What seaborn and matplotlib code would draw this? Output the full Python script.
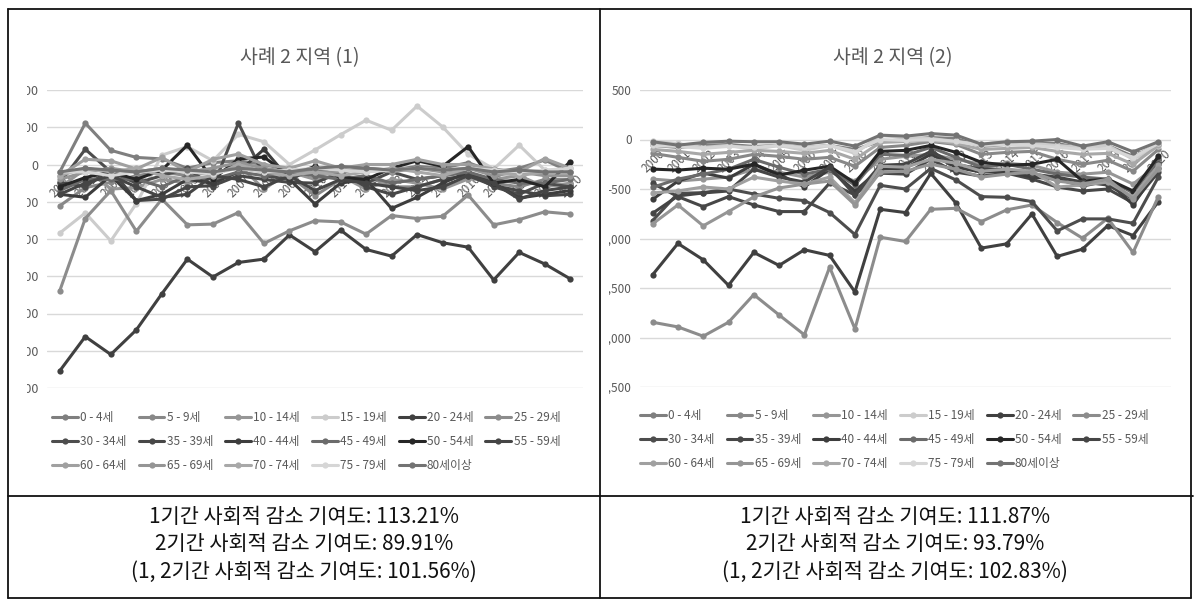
import numpy as np
import pandas as pd
import seaborn as sns
import matplotlib
matplotlib.use("Agg")
import matplotlib.pyplot as plt
from matplotlib.lines import Line2D
from matplotlib.transforms import Bbox, TransformedBbox, ScaledTranslation

years = [str(y) for y in range(2000, 2021)]
ages = ['0 - 4세', '5 - 9세', '10 - 14세', '15 - 19세', '20 - 24세', '25 - 29세',
        '30 - 34세', '35 - 39세', '40 - 44세', '45 - 49세', '50 - 54세', '55 - 59세',
        '60 - 64세', '65 - 69세', '70 - 74세', '75 - 79세', '80세이상']
colors = ['#7f7f7f', '#888888', '#969696', '#cccccc', '#404040', '#8c8c8c',
          '#4d4d4d', '#474747', '#3d3d3d', '#6b6b6b', '#262626', '#454545',
          '#a0a0a0', '#959595', '#a8a8a8', '#d6d6d6', '#737373']

# 사례 2 지역 (1)
r1_00_04 = [-20, 111, 38, 19, 15, -10, 5, 10, 0, -15, -30, -20, -10, -15, -5, -10, 5, -20, -10, 12, -20]
r1_05_09 = [-111, -62, -48, -30, -20, -30, -20, -10, -20, -30, -84, -40, -30, -60, -60, -40, -30, -50, -60, -40, -40]
r1_10_14 = [-62, -12, -66, -62, -40, -50, -30, 0, -66, -20, -40, -30, -66, -40, -50, -66, -39, -40, -30, -60, -50]
r1_15_19 = [-184, -130, -205, -105, 25, 48, 10, 81, 61, 0, 39, 80, 119, 92, 157, 101, 28, -12, 52, -15, -20]
r1_20_24 = [-554, -462, -510, -444, -347, -254, -302, -263, -254, -189, -234, -176, -228, -246, -188, -210, -222, -310, -236, -267, -307]
r1_25_29 = [-339, -145, -70, -179, -93, -162, -160, -129, -212, -178, -151, -154, -187, -137, -145, -139, -82, -162, -148, -127, -133]
r1_30_34 = [-50, 41, -20, -50, -30, -10, -60, 111, -30, -40, -10, -30, -50, -20, -40, -30, -20, -60, -80, -50, -60]
r1_35_39 = [-48, -60, -12, -97, -93, -60, -57, -30, -40, -48, -50, -20, -60, -80, -60, -40, -30, -57, -70, -84, -80]
r1_40_44 = [-80, -88, -30, -97, -80, -40, -50, -20, 41, -40, -106, -50, -40, -118, -88, -50, -20, -50, -90, -80, -70]
r1_45_49 = [-70, -40, -40, -39, -60, -30, -40, -20, -30, -20, -30, -40, -30, -50, -40, -30, -20, -40, -50, -50, -40]
r1_50_54 = [-60, -35, -20, -40, -15, 52, -40, 15, 20, -30, -5, -35, -40, -10, 10, -5, 48, -50, -40, -60, 8]
r1_55_59 = [-80, -50, -30, -60, -88, -80, -30, -40, -60, -30, -70, -40, -50, -60, -70, -60, -30, -50, -93, -70, -60]
r1_60_64 = [-30, 14, 10, -12, 19, -20, 14, 28, 0, -10, 10, -10, 0, 0, 14, 0, 0, -12, -20, 16, -10]
r1_65_69 = [-40, -20, -10, -20, -10, -20, -10, 5, -10, -20, -20, -20, -10, -20, -10, -20, -10, -30, -20, -30, -30]
r1_70_74 = [-30, -10, -20, -10, -30, -40, -30, 0, -20, -30, -20, -30, -20, -10, -20, -30, -10, -20, -30, -20, -20]
r1_75_79 = [-20, -20, -30, -20, -15, -20, -25, -10, -20, -15, -10, -15, -20, -15, -10, -15, -10, -15, -20, -15, -10]
r1_80 = [-20, -10, -15, -20, -10, -15, -20, -10, -15, -20, -10, -5, -10, -15, -10, -15, -10, -20, -15, -20, -20]

# 사례 2 지역 (2)
r2_00_04 = [-60, -80, -60, -50, -70, -60, -80, -60, -100, -20, 0, 20, 10, -70, -50, -40, -40, -90, -60, -170, -50]
r2_05_09 = [-140, -180, -220, -200, -150, -170, -200, -180, -270, -80, -60, -20, -50, -150, -130, -120, -200, -250, -210, -320, -100]
r2_10_14 = [-400, -420, -400, -380, -300, -330, -380, -330, -420, -200, -170, -150, -200, -250, -240, -260, -330, -350, -330, -450, -250]
r2_15_19 = [-20, -40, -80, -60, -100, -60, -110, -60, -140, 40, 20, 10, -20, -50, -20, -40, -60, -80, -60, -200, -70]
r2_20_24 = [-1366, -1050, -1215, -1473, -1141, -1272, -1114, -1171, -1540, -705, -738, -342, -644, -1097, -1054, -752, -1181, -1107, -869, -970, -627]
r2_25_29 = [-1846, -1893, -1987, -1846, -1567, -1772, -1973, -1289, -1913, -987, -1030, -705, -695, -829, -711, -661, -839, -997, -795, -1141, -577]
r2_30_34 = [-819, -544, -537, -500, -550, -594, -617, -738, -960, -463, -500, -292, -409, -577, -584, -627, -923, -802, -802, -846, -380]
r2_35_39 = [-443, -577, -678, -577, -661, -728, -728, -440, -560, -340, -350, -200, -330, -370, -340, -400, -480, -520, -500, -640, -330]
r2_40_44 = [-604, -420, -340, -390, -250, -350, -480, -300, -520, -300, -290, -150, -280, -330, -320, -380, -400, -470, -420, -660, -290]
r2_45_49 = [-483, -400, -350, -300, -200, -280, -350, -300, -460, -150, -160, -80, -180, -280, -250, -300, -350, -380, -400, -540, -200]
r2_50_54 = [-299, -309, -290, -300, -250, -360, -310, -270, -440, -120, -110, -60, -130, -230, -260, -250, -200, -420, -400, -520, -170]
r2_55_59 = [-745, -570, -540, -520, -300, -380, -430, -280, -560, -260, -250, -120, -250, -300, -300, -350, -380, -430, -460, -600, -250]
r2_60_64 = [-540, -520, -480, -500, -380, -420, -450, -380, -640, -270, -280, -200, -240, -320, -300, -320, -480, -460, -430, -580, -260]
r2_65_69 = [-852, -661, -872, -728, -580, -490, -450, -420, -660, -330, -320, -250, -300, -380, -350, -330, -420, -450, -400, -600, -300]
r2_70_74 = [-100, -120, -150, -130, -110, -120, -140, -110, -200, -30, -20, -10, -40, -100, -90, -80, -120, -150, -140, -250, -60]
r2_75_79 = [-60, -70, -90, -70, -80, -60, -80, -60, -120, 0, -10, 0, -20, -60, -50, -60, -80, -100, -90, -180, -40]
r2_80 = [-23, -57, -30, -17, -23, -23, -47, -17, -67, 44, 34, 60, 44, -47, -23, -17, 0, -67, -23, -124, -23]

region1 = [r1_00_04, r1_05_09, r1_10_14, r1_15_19, r1_20_24, r1_25_29, r1_30_34, r1_35_39, r1_40_44,
           r1_45_49, r1_50_54, r1_55_59, r1_60_64, r1_65_69, r1_70_74, r1_75_79, r1_80]
region2 = [r2_00_04, r2_05_09, r2_10_14, r2_15_19, r2_20_24, r2_25_29, r2_30_34, r2_35_39, r2_40_44,
           r2_45_49, r2_50_54, r2_55_59, r2_60_64, r2_65_69, r2_70_74, r2_75_79, r2_80]

titles = ['사례 2 지역 (1)', '사례 2 지역 (2)']
notes1 = ['1기간 사회적 감소 기여도: 113.21%', '2기간 사회적 감소 기여도: 89.91%',
          '(1, 2기간 사회적 감소 기여도: 101.56%)']
notes2 = ['1기간 사회적 감소 기여도: 111.87%', '2기간 사회적 감소 기여도: 93.79%',
          '(1, 2기간 사회적 감소 기여도: 102.83%)']

sns.set_theme(style="whitegrid")
plt.rcParams['font.family'] = ['Noto Sans CJK KR', 'DejaVu Sans']
plt.rcParams['axes.unicode_minus'] = False

W, H = 1201, 606
fig = plt.figure(figsize=(W / 100, H / 100), dpi=100)
palette = dict(zip(ages, colors))
GRAY = '#595959'

# legend is filled column by column, the picture reads row by row
NCOL = 6
leg_order = [r * NCOL + c for c in range(NCOL) for r in range(3) if r * NCOL + c < len(ages)]


def make_frame(series):
    rows = []
    for age, vals in zip(ages, series):
        for i, v in enumerate(vals):
            rows.append((i, age, v))
    return pd.DataFrame(rows, columns=['idx', 'age', 'value'])


def draw_chart(rect, series, title, yticks, ysize, clip_x, title_x, leg_xy):
    ax = fig.add_axes(rect)
    df = make_frame(series)
    sns.lineplot(data=df, x='idx', y='value', hue='age', hue_order=ages, palette=palette,
                 marker='o', markersize=4.5, markeredgewidth=0, linewidth=2.2,
                 estimator=None, legend=False, ax=ax)
    ax.set_xlim(-0.5, 20.5)
    ax.set_ylim(yticks[0], yticks[-1])
    ax.set_yticks(yticks, labels=[f'{v:,}' for v in yticks])
    ax.set_xticks(range(len(years)), labels=years)
    ax.grid(axis='x', visible=False)
    ax.grid(axis='y', color='#d9d9d9', linewidth=1)
    for s in ax.spines.values():
        s.set_visible(False)
    ax.spines['bottom'].set_position(('data', 0))
    ax.set_xlabel('')
    ax.set_ylabel('')
    ax.tick_params(axis='y', length=0, pad=6, labelsize=ysize, labelcolor=GRAY)
    ax.tick_params(axis='x', length=0, pad=0, labelsize=8.5, labelcolor=GRAY)
    off = ScaledTranslation(6 / 100, -8 / 100, fig.dpi_scale_trans)
    for lab in ax.get_xticklabels():
        lab.set_rotation(45)
        lab.set_ha('right')
        lab.set_va('top')
        lab.set_rotation_mode('anchor')
        lab.set_transform(lab.get_transform() + off)
    # the tick labels of the original are cut at the left edge
    box = TransformedBbox(Bbox.from_extents(clip_x / W, 0, 1, 1), fig.transFigure)
    for lab in ax.get_yticklabels():
        lab.set_clip_on(True)
        lab.set_clip_box(box)
    fig.text(title_x / W, 1 - 58 / H, title, ha='center', va='center', fontsize=14, color=GRAY)
    handles = [Line2D([], [], color=c, lw=2.2, marker='o', ms=4.5, mew=0) for c in colors]
    ax.legend([handles[i] for i in leg_order], [ages[i] for i in leg_order], ncol=NCOL,
              loc='upper left', bbox_to_anchor=leg_xy, bbox_transform=fig.transFigure,
              frameon=False, fontsize=8.5, labelcolor=GRAY, handlelength=2.2,
              handletextpad=0.2, columnspacing=1.0, labelspacing=0.95,
              borderpad=0, borderaxespad=0)
    return ax


draw_chart([47 / W, 1 - 388 / H, 536 / W, 298 / H], region1, titles[0],
           [-600, -500, -400, -300, -200, -100, 0, 100, 200], 9, 27, 300, (52 / W, 1 - 411 / H))
draw_chart([640 / W, 1 - 387 / H, 531 / W, 297 / H], region2, titles[1],
           [-2500, -2000, -1500, -1000, -500, 0, 500], 8.5, 609, 893, (640 / W, 1 - 409 / H))

for cx, notes in ((304, notes1), (895, notes2)):
    for k, line in enumerate(notes):
        fig.text(cx / W, 1 - (517 + 27.5 * k) / H, line, ha='center', va='center',
                 fontsize=15, color='#111111')


# table borders
def hline(y, x0, x1):
    fig.add_artist(Line2D([x0 / W, x1 / W], [1 - y / H, 1 - y / H], color='#111111', lw=1.3))


def vline(x, y0, y1):
    fig.add_artist(Line2D([x / W, x / W], [1 - y0 / H, 1 - y1 / H], color='#111111', lw=1.3))


hline(9, 8, 1191)
hline(496, 8, 1193)
hline(598, 8, 1191)
vline(8, 9, 598)
vline(600, 9, 598)
vline(1191, 9, 598)

fig.savefig('out.png', dpi=100)
